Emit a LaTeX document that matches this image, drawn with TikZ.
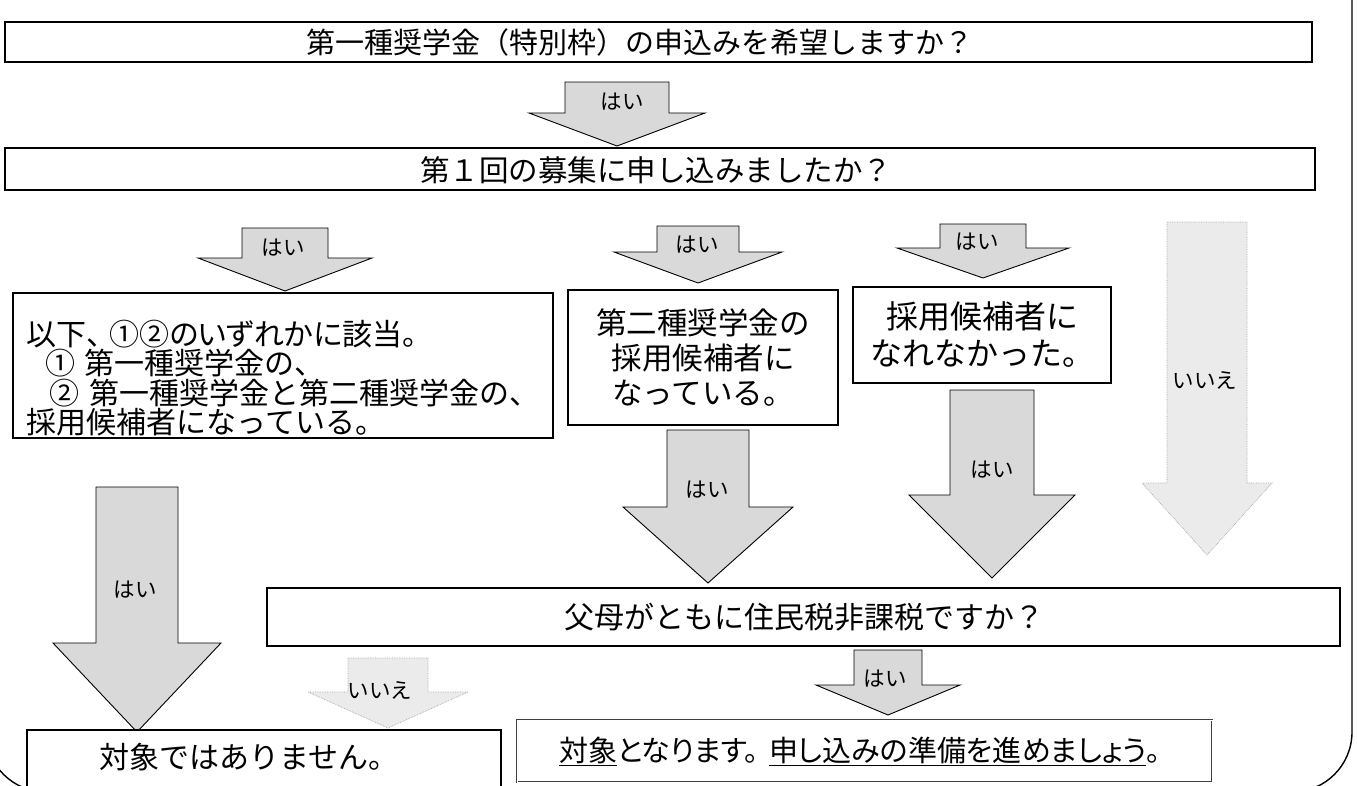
\documentclass[tikz,border=0pt]{standalone}
\usepackage{fontspec}
\newfontfamily\jp{Noto Sans CJK JP}
\newfontfamily\jpp[RawFeature=+palt]{Noto Sans CJK JP}
\newcommand\blockarr[7]{%
  \draw[#1] ({#2-#6},#3) -- ({#2+#6},#3) -- ({#2+#6},#4) -- ({#2+#7},#4) -- (#2,#5) -- ({#2-#7},#4) -- ({#2-#6},#4) -- cycle;}
\tikzset{
  box/.style={draw, line width=1.3pt, inner sep=0pt, fill=white,
    font=\jp\fontsize{30}{32}\selectfont},
  txt/.style={inner sep=0pt, font=\jp\fontsize{29.5}{32}\selectfont},
  barrow/.style={fill=black!15, draw=black, line width=0.9pt, line join=miter},
  faint/.style={fill=black!8, draw=black!35, line width=0.7pt, densely dotted},
  lbl/.style={inner sep=0pt, font=\jp\fontsize{21.5}{23}\selectfont},
}
\begin{document}
\begin{tikzpicture}[x=1pt,y=-1pt]
\useasboundingbox (0,0) rectangle (1357,785);
\clip (0,0) rectangle (1357,785);
% outer frame
\draw[line width=1.4pt, rounded corners=60pt] (-14,-80) rectangle (1352,792);

% question boxes
\node[box, minimum width=1307pt, minimum height=40pt] (q1) at (658.5,42) {};
\node[txt, font=\jp\fontsize{29}{32}\selectfont] (q1t) at (640,42) {第一種奨学金（特別枠）の申込みを希望しますか？};
\node[box, minimum width=1310pt, minimum height=42pt] (q2) at (660,169) {};
\node[txt] (q2t) at (656,170) {第１回の募集に申し込みましたか？};

% first arrow
\blockarr{barrow}{617}{82}{113}{146}{52}{88}
\node[lbl] (l1) at (622,102) {はい};

% row of arrows under q2
\blockarr{barrow}{285}{228}{258}{291}{43}{87}
\node[lbl] (l2) at (283,248) {はい};
\blockarr{barrow}{698}{226}{252}{283}{41}{84}
\node[lbl] (l3) at (697,245) {はい};
\blockarr{barrow}{983}{224}{248}{278}{43}{86}
\node[lbl] (l4) at (977,242) {はい};
\blockarr{faint}{1207}{222}{483}{555}{40}{65}
\node[lbl] (l5) at (1205,380) {いいえ};

% middle boxes
\node[box, minimum width=540pt, minimum height=145pt] (b3) at (283,365.5) {};
\node[txt, text width=520pt, align=left, font=\jp\fontsize{30}{29.5}\selectfont] (b3t) at (287,378)
  {{\jpp 以下、\hspace{0.25em}①②のいずれかに該当。}\\\hspace*{0.6em}① 第一種奨学金の、\\\hspace*{0.75em}② 第一種奨学金と第二種奨学金の、\\採用候補者になっている。};
\node[box, minimum width=270pt, minimum height=135pt, align=center,
  font=\jp\fontsize{30.5}{35}\selectfont] (b4) at (703,357.5)
  {第二種奨学金の\\採用候補者に\\なっている。};
\node[box, minimum width=258pt, minimum height=96pt, align=center,
  font=\jp\fontsize{32}{37}\selectfont] (b5) at (982,335)
  {採用候補者に\\なれなかった。};

% arrows down to q3 and to result
\blockarr{barrow}{708}{430}{507}{583}{41}{85}
\node[lbl] (l6) at (707,490) {はい};
\blockarr{barrow}{992}{390}{495}{578}{42}{83}
\node[lbl] (l7) at (992,470) {はい};
\blockarr{barrow}{137}{487}{643}{732}{41}{84}
\node[lbl] (l8) at (135,590) {はい};

% q3
\node[box, minimum width=1073pt, minimum height=58pt] (q3) at (803.5,617) {};
\node[txt, font=\jp\fontsize{30}{32}\selectfont] (q3t) at (804,617) {父母がともに住民税非課税ですか？};

\blockarr{faint}{388}{658}{692}{728}{40}{80}
\node[lbl] (l9) at (380,690) {いいえ};
\blockarr{barrow}{888}{650}{685}{715}{34}{72}
\node[lbl] (l10) at (885,679) {はい};

% results
\node[box, minimum width=474pt, minimum height=65pt] (r2) at (264,762.5) {};
\node[txt, font=\jp\fontsize{30}{32}\selectfont] (r2t) at (249,757) {対象ではありません。};
\node[box, draw=black!75, double=white, double distance=1pt, line width=0.8pt,
  minimum width=695pt, minimum height=62pt] (r1) at (864.5,751) {};
\node[txt, font=\jpp\fontsize{29}{32}\selectfont] (r1t) at (860,751)
  {\underline{対象}となります。\hspace{0.35em}\underline{申し込みの準備を進めましょう}。};
\end{tikzpicture}
\end{document}
